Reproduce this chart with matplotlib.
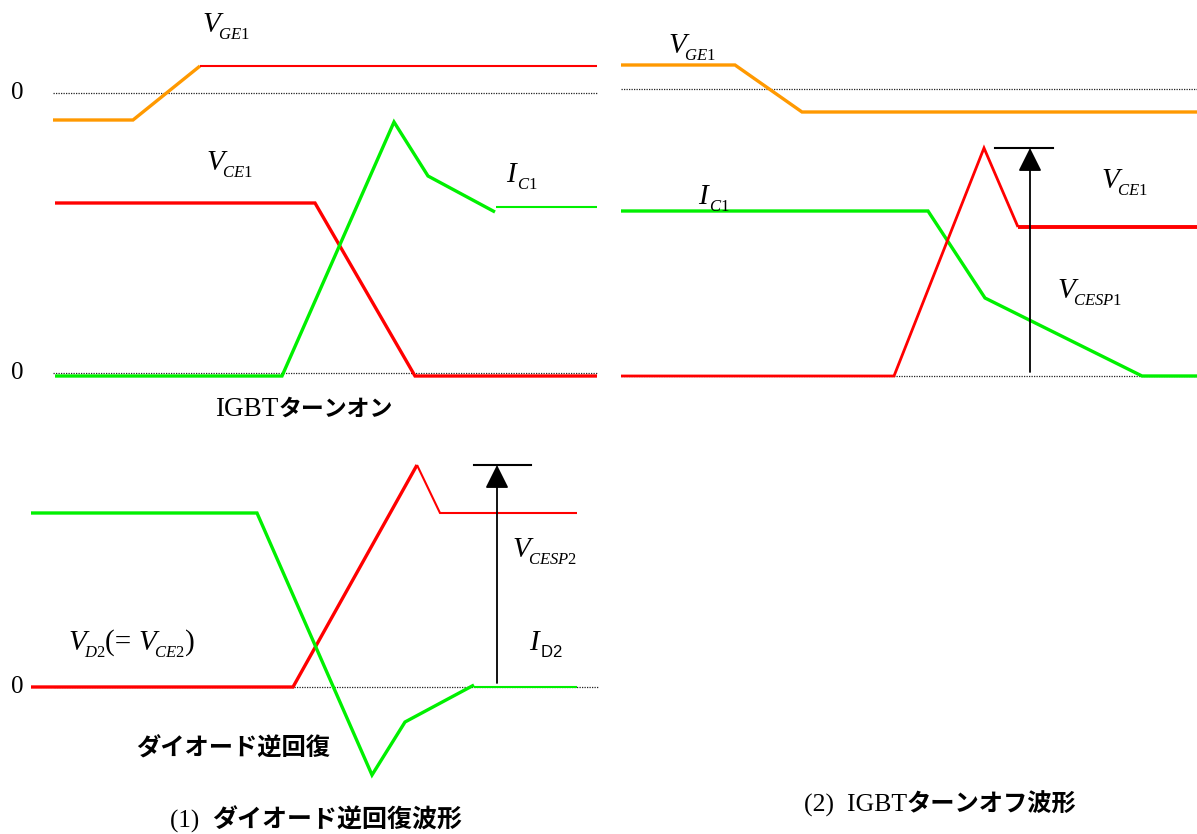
import matplotlib
matplotlib.use("Agg")
import matplotlib.pyplot as plt

# waveform breakpoints: time (t) and level relative to each zero line (upward positive)
# (1) IGBT turn-on
on_vge_t = [0, 80, 147, 544]
on_vge = [-27, -27, 27, 27]
on_vce_t = [2, 262, 362, 544]
on_vce = [173, 173, 0, 0]
on_ic_t = [2, 229, 341, 375, 442]
on_ic = [0, 0, 254, 200, 164]
on_ic_tail_t = [443, 544]
on_ic_tail = [169, 169]

# (2) IGBT turn-off
off_vge_t = [0, 114, 181, 576]
off_vge = [24, 24, -23, -23]
off_ic_t = [0, 307, 364, 521, 576]
off_ic = [165, 165, 78, 0, 0]
off_vce_t = [0, 273, 363, 397, 576]
off_vce = [0, 0, 228, 149, 149]
off_vcesp_t = 409
off_vcesp_bar = [374, 432]

# (1) diode reverse recovery
rr_id_t = [0, 226, 341, 374, 443]
rr_id = [174, 174, -88, -35, 2]
rr_id_tail_t = [443, 546]
rr_id_tail = [0, 0]
rr_vd_t = [0, 262, 386]
rr_vd = [0, 0, 222]
rr_vd_tail_t = [386, 409, 546]
rr_vd_tail = [222, 174, 174]
rr_vcesp_t = 466
rr_vcesp_bar = [443, 500]

ORANGE = "#FF9900"
RED = "#FF0000"
GREEN = "#00F000"
THICK = 2.4
THIN = 1.5

plt.rcParams["mathtext.fontset"] = "custom"
plt.rcParams["mathtext.rm"] = "Liberation Serif"
plt.rcParams["mathtext.it"] = "Liberation Serif:italic"
plt.rcParams["mathtext.sf"] = "Liberation Sans"

SERIF = dict(family="Liberation Serif")
ITALIC = dict(family="Liberation Serif", style="italic")
GOTHIC = dict(family=["Noto Sans CJK JP", "DejaVu Sans"], weight="bold")

fig = plt.figure(figsize=(11.97, 8.34), dpi=100)
ax = fig.add_axes([0, 0, 1, 1])
ax.set_xlim(0, 1197)
ax.set_ylim(834, 0)
ax.axis("off")
renderer = fig.canvas.get_renderer()


def wave(x0, y0, t, v, color, lw):
    ax.plot([x0 + a for a in t], [y0 - b for b in v], color=color, lw=lw,
            solid_joinstyle="miter", solid_capstyle="butt")


def zero_line(x1, x2, y):
    ax.plot([x1, x2], [y, y], color="#222222", lw=0.9, ls=(0, (1, 1)))


def peak_arrow(x0, y0, t, level, bar):
    ax.annotate("", xy=(x0 + t, y0 - level), xytext=(x0 + t, y0 - 4),
                arrowprops=dict(arrowstyle="-|>", mutation_scale=36, color="black",
                                lw=1.3, shrinkA=0, shrinkB=0))
    ax.plot([x0 + bar[0], x0 + bar[1]], [y0 - level] * 2, color="black", lw=1.5)


def runs_at(x, y, runs, centre=False):
    # runs: (text, size, font, baseline shift, kern before) laid left to right
    parts, widths = [], []
    for s, size, fd, dy, kern in runs:
        p = ax.text(0, y + dy, s, fontsize=size, ha="left", va="baseline", **fd)
        parts.append(p)
        widths.append(p.get_window_extent(renderer).width)
    total = sum(widths) + sum(r[4] for r in runs)
    left = x - total / 2 if centre else x
    for p, w, r in zip(parts, widths, runs):
        left += r[4]
        p.set_x(left)
        left += w


def sym(main, sub, sub_font=None):
    # italic symbol with a dropped, smaller subscript
    kern = -2 if main == "V" else 1
    return [(main, 21, ITALIC, 0, 0), (f"${sub}$", 12, sub_font or SERIF, 7, kern)]


def label(x, y, main, sub):
    runs_at(x, y, sym(main, sub))


# ---- (1) IGBT turn-on, top left ----
x0, top0, bot0 = 53, 93, 376
zero_line(53, 597, top0)
zero_line(53, 597, bot0 - 3)
wave(x0, top0, on_vge_t[:3], on_vge[:3], ORANGE, THICK)
wave(x0, top0, on_vge_t[2:], on_vge[2:], RED, THIN)
wave(x0, bot0, on_vce_t, on_vce, RED, THICK)
wave(x0, bot0, on_ic_t, on_ic, GREEN, THICK)
wave(x0, bot0, on_ic_tail_t, on_ic_tail, GREEN, THIN)
ax.text(17, top0, "0", fontsize=18, ha="center", va="center", **SERIF)
ax.text(17, bot0 - 3, "0", fontsize=18, ha="center", va="center", **SERIF)
label(202, 32, "V", "GE1")
label(206, 170, "V", "CE1")
label(506, 182, "I", "C1")
runs_at(304, 416, [("IGBT", 19.5, SERIF, 0, 0), ("ターンオン", 16.5, GOTHIC, 0, 0)],
        centre=True)

# ---- (2) IGBT turn-off, top right ----
x0, top0, bot0 = 621, 89, 376
zero_line(621, 1197, top0)
zero_line(621, 1197, bot0)
wave(x0, top0, off_vge_t, off_vge, ORANGE, THICK)
wave(x0, bot0, off_ic_t, off_ic, GREEN, THICK)
wave(x0, bot0, off_vce_t[:4], off_vce[:4], RED, 2.0)
wave(x0, bot0, off_vce_t[3:], off_vce[3:], RED, 2.8)
peak_arrow(x0, bot0, off_vcesp_t, max(off_vce), off_vcesp_bar)
label(668, 53, "V", "GE1")
label(698, 204, "I", "C1")
label(1101, 188, "V", "CE1")
label(1057, 298, "V", "CESP1")
runs_at(940, 812, [("(2)  IGBT", 18.5, SERIF, 0, 0), ("ターンオフ波形", 17.5, GOTHIC, 0, 0)],
        centre=True)

# ---- (1) diode reverse recovery, bottom left ----
x0, bot0 = 31, 687
zero_line(54, 598, bot0)
wave(x0, bot0, rr_vd_t, rr_vd, RED, THICK)
wave(x0, bot0, rr_vd_tail_t, rr_vd_tail, RED, THIN)
wave(x0, bot0, rr_id_t, rr_id, GREEN, THICK)
wave(x0, bot0, rr_id_tail_t, rr_id_tail, GREEN, THIN)
peak_arrow(x0, bot0, rr_vcesp_t, max(rr_vd), rr_vcesp_bar)
ax.text(17, bot0, "0", fontsize=18, ha="center", va="center", **SERIF)
runs_at(68, 650, sym("V", "D2") + [("(= ", 21, SERIF, 0, 0)] + sym("V", "CE2")
        + [(")", 21, SERIF, 0, 0)])
label(512, 557, "V", "CESP2")
runs_at(529, 650, sym("I", r"\mathsf{D2}"))
runs_at(233, 756, [("ダイオード逆回復", 17.5, GOTHIC, 0, 0)], centre=True)
runs_at(316, 828, [("(1)  ", 18, SERIF, 0, 0), ("ダイオード逆回復波形", 18, GOTHIC, 0, 0)],
        centre=True)

fig.savefig("out.png", dpi=100)
